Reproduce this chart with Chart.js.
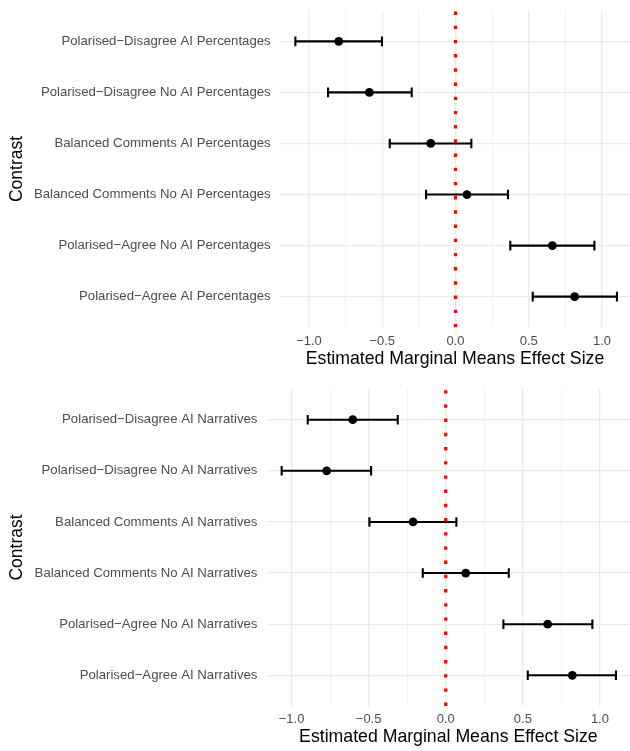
<!DOCTYPE html>
<html>
<head>
<meta charset="utf-8">
<title>Estimated Marginal Means Effect Size by Contrast</title>
<script src="https://cdn.jsdelivr.net/npm/chart.js@4/dist/chart.umd.min.js"></script>
<style>
  html, body { margin: 0; padding: 0; background: #ffffff; }
  #wrap { position: relative; width: 630px; height: 751px; }
  canvas { position: absolute; left: 0; display: block; }
  #topChart { top: 0; }
  #bottomChart { top: 375px; }
</style>
</head>
<body>
<div id="wrap">
  <canvas id="topChart" width="630" height="375"></canvas>
  <canvas id="bottomChart" width="630" height="376"></canvas>
</div>
<script>
// Percentages condition: contrasts, estimates and 95% interval bounds
const percentageContrasts = [
  "Polarised\u2212Disagree AI Percentages",
  "Polarised\u2212Disagree No AI Percentages",
  "Balanced Comments AI Percentages",
  "Balanced Comments No AI Percentages",
  "Polarised\u2212Agree No AI Percentages",
  "Polarised\u2212Agree AI Percentages"
];
const percentageEstimates = [-0.797, -0.588, -0.169, 0.078, 0.661, 0.813];
const percentageLower = [-1.093, -0.870, -0.449, -0.201, 0.374, 0.527];
const percentageUpper = [-0.502, -0.299, 0.108, 0.358, 0.948, 1.102];

// Narratives condition
const narrativeContrasts = [
  "Polarised\u2212Disagree AI Narratives",
  "Polarised\u2212Disagree No AI Narratives",
  "Balanced Comments AI Narratives",
  "Balanced Comments No AI Narratives",
  "Polarised\u2212Agree No AI Narratives",
  "Polarised\u2212Agree AI Narratives"
];
const narrativeEstimates = [-0.603, -0.772, -0.212, 0.130, 0.661, 0.821];
const narrativeLower = [-0.895, -1.064, -0.495, -0.149, 0.374, 0.532];
const narrativeUpper = [-0.311, -0.484, 0.069, 0.409, 0.951, 1.104];

// Shared x-axis ticks
const majorTicks = [-1, -0.5, 0, 0.5, 1];
const minorTicks = [-0.75, -0.25, 0.25, 0.75];
const referenceValue = 0;

const FONT = "'Liberation Sans', Arial, Helvetica, sans-serif";
const GRID = "#EBEBEB";
const TICK_COLOR = "#4D4D4D";

// Horizontal confidence-interval whiskers with end caps
const errorBarPlugin = {
  id: "errorBars",
  beforeDatasetsDraw(chart, args, opts) {
    const xs = chart.scales.x, ys = chart.scales.y;
    const ctx = chart.ctx;
    ctx.save();
    ctx.strokeStyle = "#000000";
    ctx.lineWidth = 2.1;
    ctx.lineCap = "butt";
    opts.lower.forEach((lo, i) => {
      const y = ys.getPixelForValue(i + 1);
      const x0 = xs.getPixelForValue(lo);
      const x1 = xs.getPixelForValue(opts.upper[i]);
      const h = opts.capHalf;
      ctx.beginPath();
      ctx.moveTo(x0, y); ctx.lineTo(x1, y);
      ctx.moveTo(x0, y - h); ctx.lineTo(x0, y + h);
      ctx.moveTo(x1, y - h); ctx.lineTo(x1, y + h);
      ctx.stroke();
    });
    ctx.restore();
  }
};

// Dotted vertical reference line at zero effect
const zeroLinePlugin = {
  id: "zeroLine",
  afterDatasetsDraw(chart, args, opts) {
    const xs = chart.scales.x;
    const area = chart.chartArea;
    const ctx = chart.ctx;
    const x = xs.getPixelForValue(opts.value);
    ctx.save();
    ctx.strokeStyle = "#FF0000";
    ctx.lineWidth = 3.3;
    ctx.lineCap = "butt";
    ctx.setLineDash([3.4, 10.8]);
    ctx.beginPath();
    ctx.moveTo(x, area.bottom);
    ctx.lineTo(x, area.top);
    ctx.stroke();
    ctx.restore();
  }
};

function fmtTick(v) {
  return v.toFixed(1).replace("-", "\u2212");
}

function buildChart(canvasId, cfg) {
  const points = cfg.estimates.map((v, i) => ({ x: v, y: i + 1 }));
  return new Chart(document.getElementById(canvasId), {
    type: "scatter",
    data: {
      datasets: [{
        data: points,
        pointRadius: 4.4,
        pointHoverRadius: 4.4,
        pointBackgroundColor: "#000000",
        pointBorderWidth: 0,
        borderColor: "#000000"
      }]
    },
    options: {
      responsive: false,
      animation: false,
      devicePixelRatio: 1,
      events: [],
      layout: {
        autoPadding: false,
        padding: { top: cfg.plotTop, right: 0, left: 0, bottom: 0 }
      },
      plugins: {
        legend: { display: false },
        tooltip: { enabled: false },
        errorBars: { lower: cfg.lower, upper: cfg.upper, capHalf: 4.8 },
        zeroLine: { value: referenceValue }
      },
      scales: {
        x: {
          type: "linear",
          min: cfg.xMin,
          max: cfg.xMax,
          afterBuildTicks(scale) {
            scale.ticks = majorTicks.concat(minorTicks)
              .sort((a, b) => a - b)
              .map(v => ({ value: v }));
          },
          afterFit(scale) {
            scale.height = cfg.xAxisHeight;
            scale.paddingLeft = 0;
            scale.paddingRight = 0;
          },
          border: { display: false },
          grid: {
            color: GRID,
            drawTicks: false,
            lineWidth: ctx => (majorTicks.includes(ctx.tick && ctx.tick.value) ? 1.3 : 0.7)
          },
          ticks: {
            autoSkip: false,
            maxRotation: 0,
            padding: cfg.tickPad,
            color: TICK_COLOR,
            font: { family: FONT, size: 13 },
            callback: v => (majorTicks.includes(v) ? fmtTick(v) : "")
          },
          title: {
            display: true,
            text: "Estimated Marginal Means Effect Size",
            color: "#000000",
            font: { family: FONT, size: 17.7 },
            padding: { top: 0, bottom: cfg.titlePad }
          }
        },
        y: {
          type: "linear",
          reverse: true,
          min: 0.4,
          max: cfg.contrasts.length + 0.6,
          afterBuildTicks(scale) {
            scale.ticks = cfg.contrasts.map((_, i) => ({ value: i + 1 }));
          },
          afterFit(scale) {
            scale.width = cfg.plotLeft;
            scale.paddingTop = 0;
            scale.paddingBottom = 0;
          },
          border: { display: false },
          grid: { color: GRID, lineWidth: 1.3, drawTicks: false },
          ticks: {
            autoSkip: false,
            padding: 9.3,
            color: TICK_COLOR,
            font: { family: FONT, size: 13.2 },
            callback: v => cfg.contrasts[v - 1]
          },
          title: {
            display: true,
            text: "Contrast",
            color: "#000000",
            font: { family: FONT, size: 17.5 },
            padding: { top: 7, bottom: 0 }
          }
        }
      }
    },
    plugins: [errorBarPlugin, zeroLinePlugin]
  });
}

buildChart("topChart", {
  contrasts: percentageContrasts,
  estimates: percentageEstimates,
  lower: percentageLower,
  upper: percentageUpper,
  xMin: -1.198, xMax: 1.191,
  plotTop: 10.7, plotLeft: 280,
  xAxisHeight: 47.7, tickPad: 6.2, titlePad: 4.8
});

buildChart("bottomChart", {
  contrasts: narrativeContrasts,
  estimates: narrativeEstimates,
  lower: narrativeLower,
  upper: narrativeUpper,
  xMin: -1.161, xMax: 1.195,
  plotTop: 14, plotLeft: 266.7,
  xAxisHeight: 45, tickPad: 5.9, titlePad: 3.4
});
</script>
</body>
</html>
